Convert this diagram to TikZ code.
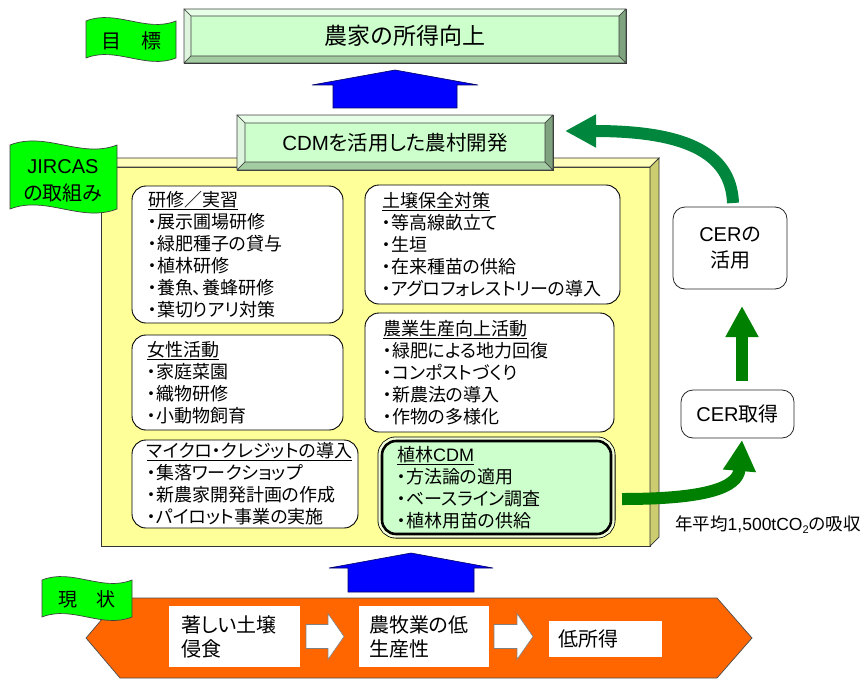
\documentclass[tikz,border=0pt]{standalone}
\usepackage{fontspec}
\setmainfont{Noto Sans CJK JP}[RawFeature=+palt]
\newfontfamily\lat{Liberation Sans}
\usetikzlibrary{calc,arrows.meta}
\definecolor{flaggreen}{HTML}{00FF00}
\definecolor{bvface}{HTML}{CCFFCC}
\definecolor{bvtopc}{HTML}{E6FFE6}
\definecolor{bvleftc}{HTML}{DDF5DD}
\definecolor{bvbotc}{HTML}{A3CCA3}
\definecolor{bvrightc}{HTML}{7FA37F}
\definecolor{yfront}{HTML}{FFFF99}
\definecolor{ytop}{HTML}{FFFFBB}
\definecolor{yside}{HTML}{CCCC70}
\definecolor{orangec}{HTML}{FF6600}
\definecolor{gdark}{HTML}{008000}
\definecolor{gtop}{HTML}{00873D}
\definecolor{plantc}{HTML}{CCFFCC}
\definecolor{gapc}{HTML}{F2FFD9}
\newcommand\mybevel[2]{%
  \path (#1.north west) coordinate (bvA) (#1.north east) coordinate (bvB)
        (#1.south east) coordinate (bvC) (#1.south west) coordinate (bvD);
  \coordinate (bva) at ($(bvA)+(#2,#2)$);
  \coordinate (bvb) at ($(bvB)+(-#2,#2)$);
  \coordinate (bvc) at ($(bvC)+(-#2,-#2)$);
  \coordinate (bvd) at ($(bvD)+(#2,-#2)$);
  \filldraw[bvl, fill=bvtopc] (bvA)--(bvB)--(bvb)--(bva)--cycle;
  \filldraw[bvl, fill=bvleftc] (bvA)--(bva)--(bvd)--(bvD)--cycle;
  \filldraw[bvl, fill=bvbotc] (bvD)--(bvd)--(bvc)--(bvC)--cycle;
  \filldraw[bvl, fill=bvrightc] (bvB)--(bvC)--(bvc)--(bvb)--cycle;
}
\begin{document}
\begin{tikzpicture}[x=1pt,y=-1pt,
  flagshape/.style={fill=flaggreen, draw=black!75, line width=0.7pt},
  flagtext/.style={font=\fontsize{20}{27}\selectfont, align=center, inner sep=0pt},
  bevelnode/.style={rectangle, fill=bvface, draw=black!80, line width=0.7pt, outer sep=0pt, inner sep=0pt},
  bvl/.style={draw=black!75, line width=0.6pt, line join=round},
  tbox/.style={rectangle, rounded corners=14pt, draw=black, line width=0.9pt, fill=white, align=left, inner ysep=0pt, outer sep=0pt, font=\fontsize{18}{22}\selectfont},
  cbox/.style={rectangle, rounded corners=12pt, draw=black!85, line width=0.8pt, fill=white, align=center, outer sep=0pt, font=\fontsize{20}{26}\selectfont},
  wbox/.style={rectangle, fill=white, align=left, outer sep=0pt, inner ysep=0pt, font=\fontsize{20}{24}\selectfont},
  bluearr/.style={fill=blue, draw=blue!40!black, line width=0.6pt, line join=miter},
  warr/.style={fill=white, draw=black!50, line width=0.6pt},
  garrow/.style={line width=12pt, -{Triangle[length=31pt,width=31pt]}}
]
\useasboundingbox (0,0) rectangle (866,682);

% goal
\node[bevelnode, minimum width=442pt, minimum height=54pt, font=\fontsize{23}{23}\selectfont] (goal) at (405,36) {農家の所得向上};
\mybevel{goal}{7}
\filldraw[flagshape] (86,21) .. controls (116,9) and (146,33) .. (176,21) -- (176,58) .. controls (146,70) and (116,46) .. (86,58) -- cycle;
\node[flagtext] (fmoku) at (131,41) {目　標};

% yellow 3D box
\node[draw=black!80, line width=0.7pt, fill=yfront, minimum width=549pt, minimum height=379pt, outer sep=0pt, inner sep=0pt] (jbox) at (375.5,356.5) {};
\filldraw[fill=ytop, draw=black!80, line width=0.7pt] (jbox.north west) -- ++(9,-9) -- ($(jbox.north east)+(9,-9)$) -- (jbox.north east) -- cycle;
\filldraw[fill=yside, draw=black!80, line width=0.7pt] (jbox.north east) -- ++(9,-9) -- ($(jbox.south east)+(9,-9)$) -- (jbox.south east) -- cycle;

% JIRCAS flag
\filldraw[flagshape] (10,145) .. controls (46,131) and (81,159) .. (117,145) -- (117,209) .. controls (81,223) and (46,195) .. (10,209) -- cycle;
\node[flagtext] (fjir) at (63,181) {{\lat JIRCAS}\\の取組み};

% CDM banner
\node[bevelnode, minimum width=316pt, minimum height=55pt, font=\fontsize{20.5}{20.5}\selectfont] (cdm) at (395,142.5) {{\lat CDM}を活用した農村開発};
\mybevel{cdm}{8}
\begin{scope}[shift={(cdm.north)}]
\filldraw[bluearr] (-62,-7) -- (-62,-30) -- (-83,-30) -- (0,-45) -- (83,-30) -- (62,-30) -- (62,-7) -- cycle;
\end{scope}

% activity boxes
\node[tbox, text width=179pt, inner xsep=16pt, minimum height=137pt] (train) at (237.5,254.5)
 {\underline{研修／実習}\\・展示圃場研修\\・緑肥種子の貸与\\・植林研修\\・養魚、養蜂研修\\・葉切りアリ対策};
\node[tbox, text width=221pt, inner xsep=17pt, minimum height=119pt] (soil) at (492.5,244.5)
 {\underline{土壌保全対策}\\・等高線畝立て\\・生垣\\・在来種苗の供給\\・アグロフォレストリーの導入};
\node[tbox, text width=181pt, inner xsep=15pt, minimum height=95pt] (women) at (237.5,382.5)
 {\underline{女性活動}\\・家庭菜園\\・織物研修\\・小動物飼育};
\node[tbox, text width=196pt, inner xsep=15pt, minimum height=88pt] (micro) at (245,484)
 {\underline{マイクロ・クレジットの導入}\\・集落ワークショップ\\・新農家開発計画の作成\\・パイロット事業の実施};
\node[tbox, text width=213pt, inner xsep=18pt, minimum height=119pt] (prod) at (489.5,372.5)
 {\underline{農業生産向上活動}\\・緑肥による地力回復\\・コンポストづくり\\・新農法の導入\\・作物の多様化};
\node[tbox, fill=plantc, line width=2.6pt, text width=199pt, inner xsep=15pt, minimum height=93pt,
      preaction={draw=black, line width=9pt}, preaction={draw=gapc, line width=7.4pt}] (plant) at (496.5,487.5)
 {\underline{植林{\lat CDM}}\\・方法論の適用\\・ベースライン調査\\・植林用苗の供給};

% CER boxes
\node[cbox, minimum width=114pt, minimum height=82pt] (ceruse) at (730,248) {{\lat CER}の\\活用};
\node[cbox, minimum width=113pt, minimum height=48pt] (cerget) at (737.5,414) {{\lat CER}取得};

% green arrows
\draw[garrow, gtop] ($(ceruse.north)+(3,-4)$) .. controls (731,150) and (680,131) .. ($(cdm.east)+(12,-11.5)$);
\draw[garrow, gdark] ($(cerget.north)+(4.5,-9)$) -- ($(ceruse.south)+(12,17)$);
\draw[garrow, gdark] ($(plant.east)+(11,11.5)$) .. controls (705,499) and (738,488) .. ($(cerget.south)+(4.5,2)$);
\node[anchor=west, inner sep=0pt, font=\fontsize{17.5}{17.5}\selectfont] (absorb) at (675,525)
 {年平均{\lat 1,500tCO\raisebox{-3pt}{\fontsize{11}{11}\selectfont 2}}の吸収};

% present situation
\filldraw[fill=orangec, draw=black!70, line width=0.7pt] (86,638) -- (120,598) -- (717,598) -- (752,638) -- (717,678) -- (120,678) -- cycle;
\node[wbox, text width=107pt, inner xsep=12pt, minimum height=61pt] (s1) at (234.5,636.5) {著しい土壌\\侵食};
\node[wbox, text width=110pt, inner xsep=10pt, minimum height=61pt] (s2) at (424,636.5) {農牧業の低\\生産性};
\node[wbox, text width=95pt, inner xsep=9pt, minimum height=36pt] (s3) at (605.5,639) {低所得};
\begin{scope}[shift={(s1.east)}]
\filldraw[warr] (6,-12) -- (28,-12) -- (28,-23) -- (44,0) -- (28,23) -- (28,12) -- (6,12) -- cycle;
\end{scope}
\begin{scope}[shift={(s2.east)}]
\filldraw[warr] (5,-12) -- (28,-12) -- (28,-23) -- (44,0) -- (28,23) -- (28,12) -- (5,12) -- cycle;
\end{scope}
\filldraw[flagshape] (42,580) .. controls (72,568) and (102,592) .. (132,580) -- (132,617) .. controls (102,629) and (72,605) .. (42,617) -- cycle;
\node[flagtext, font=\fontsize{19}{19}\selectfont] (fgen) at (87,599) {現　状};

% bottom blue arrow
\coordinate (upbase) at (411,592);
\begin{scope}[shift={(upbase)}]
\filldraw[bluearr] (-63,0) -- (-63,-24) -- (-82,-24) -- (0,-39) -- (82,-24) -- (63,-24) -- (63,0) -- cycle;
\end{scope}
\end{tikzpicture}
\end{document}
